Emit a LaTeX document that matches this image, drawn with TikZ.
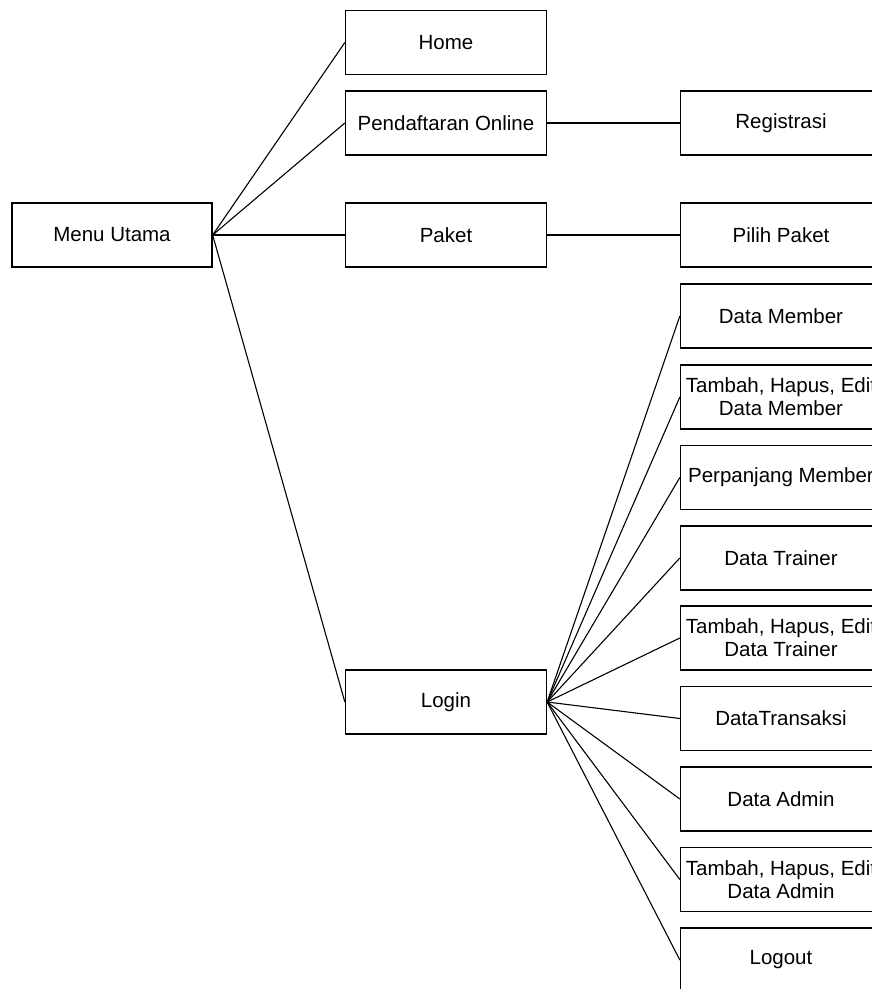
\documentclass[tikz,border=0pt]{standalone}
\usepackage{fontspec}
\setmainfont{Liberation Sans}
\begin{document}
\begin{tikzpicture}[x=1pt,y=-1pt,
  box/.style={draw=black, line width=1.3pt, fill=white, rectangle, inner sep=0pt,
    minimum width=201pt, minimum height=64pt, align=center,
    font=\fontsize{20.5}{23}\selectfont},
  link/.style={draw=black, line width=1.1pt}]
\useasboundingbox (0,0) rectangle (872,989);
\clip (0,0) rectangle (872,989);
% left / middle
\node[box, minimum width=200pt] (menu) at (112,235) {Menu Utama};
\node[box] (home) at (446,42.5) {Home};
\node[box] (daftar) at (446,123) {Pendaftaran Online};
\node[box] (paket) at (446,235) {Paket};
\node[box] (login) at (446,702) {Login};
% right column
\node[box] (reg) at (781,123) {Registrasi};
\node[box] (pilih) at (781,235) {Pilih Paket};
\node[box] (dm) at (781,316) {Data Member};
\node[box] (tdm) at (781,397) {Tambah, Hapus, Edit\\Data Member};
\node[box] (pm) at (781,477.5) {Perpanjang Member};
\node[box] (dt) at (781,558) {Data Trainer};
\node[box] (tdt) at (781,638) {Tambah, Hapus, Edit\\Data Trainer};
\node[box] (dtr) at (781,718.5) {DataTransaksi};
\node[box] (da) at (781,799) {Data Admin};
\node[box] (tda) at (781,879.5) {Tambah, Hapus, Edit\\Data Admin};
\node[box] (logout) at (781,960) {Logout};
% connectors
\draw[link] (menu.east) -- (home.west);
\draw[link] (menu.east) -- (daftar.west);
\draw[link] (menu.east) -- (paket.west);
\draw[link] (menu.east) -- (login.west);
\draw[link] (daftar.east) -- (reg.west);
\draw[link] (paket.east) -- (pilih.west);
\foreach \t in {dm,tdm,pm,dt,tdt,dtr,da,tda,logout}
  \draw[link] (login.east) -- (\t.west);
\end{tikzpicture}
\end{document}
